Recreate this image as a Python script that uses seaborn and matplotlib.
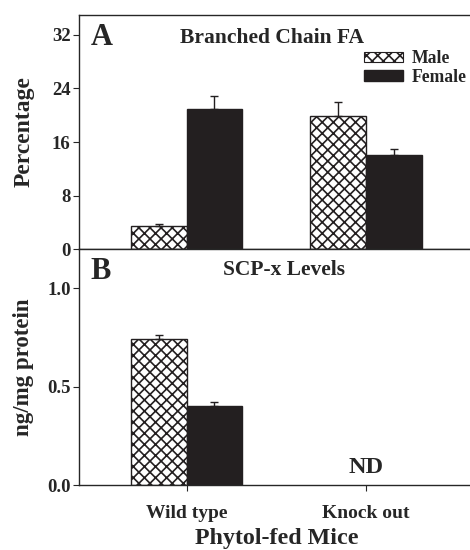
import numpy as np
import pandas as pd
import seaborn as sns
import matplotlib.pyplot as plt
from matplotlib.patches import Patch

# data
groups = ['Wild type', 'Knock out']
sexes = ['Male', 'Female']
bcfa_male = [3.4, 19.9]
bcfa_female = [21.0, 14.0]
bcfa_male_err = [0.4, 2.1]
bcfa_female_err = [1.9, 0.9]
scpx_male = [0.742, np.nan]
scpx_female = [0.403, np.nan]
scpx_male_err = [0.019, np.nan]
scpx_female_err = [0.018, np.nan]

sns.set_style('ticks')
plt.rcParams['font.family'] = ['Liberation Serif', 'DejaVu Serif']
plt.rcParams['font.weight'] = 'bold'
plt.rcParams['hatch.linewidth'] = 1.2
plt.rcParams['axes.linewidth'] = 1.0

def make_df(m, f):
    return pd.DataFrame({
        'group': groups * 2,
        'sex': ['Male'] * 2 + ['Female'] * 2,
        'value': list(m) + list(f),
    })

def draw(ax, m, f, me, fe):
    df = make_df(m, f)
    sns.barplot(data=df, x='group', y='value', hue='sex', order=groups,
                hue_order=sexes, width=0.62, errorbar=None, legend=False,
                palette={'Male': 'white', 'Female': '#231f20'},
                edgecolor='#231f20', linewidth=1.0, saturation=1, ax=ax)
    errs = [me, fe]
    for cont, err in zip(ax.containers, errs):
        for bar, e in zip(cont.patches, err):
            if cont is ax.containers[0]:
                bar.set_hatch('xxx')
            h = bar.get_height()
            if np.isnan(h) or np.isnan(e):
                continue
            x = bar.get_x() + bar.get_width() / 2
            ax.errorbar(x, h, yerr=[[0], [e]], fmt='none', ecolor='#231f20',
                        elinewidth=1.0, capsize=3, capthick=1.0)
    ax.set_xlim(-0.6, 1.6)
    ax.spines['right'].set_visible(False)
    ax.tick_params(axis='y', direction='out', length=4, width=0.8,
                   labelsize=13.5, pad=2)

fig = plt.figure(figsize=(4.7, 5.5), dpi=100)
ax1 = fig.add_axes([0.168, 0.547, 0.84, 0.426])
ax2 = fig.add_axes([0.168, 0.118, 0.84, 0.429])

draw(ax1, bcfa_male, bcfa_female, bcfa_male_err, bcfa_female_err)
ax1.set_ylim(0, 35)
ax1.set_yticks([0, 8, 16, 24, 32])
ax1.set_xticks([])
ax1.set_xlabel('')
ax1.set_ylabel('Percentage', fontsize=17, fontweight='bold')
ax1.yaxis.set_label_coords(-0.112, 0.5)
ax1.text(0.03, 0.965, 'A', transform=ax1.transAxes, fontsize=22,
         fontweight='bold', va='top', ha='left')
ax1.text(0.49, 0.945, 'Branched Chain FA', transform=ax1.transAxes,
         fontsize=15.5, fontweight='bold', va='top', ha='center')
handles = [Patch(facecolor='white', edgecolor='#231f20', hatch='xxx', lw=0.8),
           Patch(facecolor='#231f20', edgecolor='#231f20')]
ax1.legend(handles, sexes, loc='upper right', bbox_to_anchor=(1.0, 0.88),
           frameon=False, fontsize=12.7, handlelength=2.2, handleheight=0.5,
           handletextpad=0.5, labelspacing=0.1, borderaxespad=0)

draw(ax2, scpx_male, scpx_female, scpx_male_err, scpx_female_err)
ax2.set_ylim(0, 1.2)
ax2.set_yticks([0.0, 0.5, 1.0])
ax2.set_yticklabels(['0.0', '0.5', '1.0'])
ax2.tick_params(axis='x', direction='out', length=4, width=0.8,
                labelsize=14, pad=10)
ax2.set_xlabel('Phytol-fed Mice', fontsize=17.3, fontweight='bold', labelpad=5)
ax2.set_ylabel('ng/mg protein', fontsize=16.5, fontweight='bold')
ax2.yaxis.set_label_coords(-0.115, 0.5)
ax2.text(0.03, 0.965, 'B', transform=ax2.transAxes, fontsize=22,
         fontweight='bold', va='top', ha='left')
ax2.text(0.52, 0.955, 'SCP-x Levels', transform=ax2.transAxes,
         fontsize=15.5, fontweight='bold', va='top', ha='center')
ax2.text(1, 0.035, 'ND', fontsize=17.5, fontweight='bold', ha='center',
         va='bottom')

fig.savefig('out.png', dpi=100)
